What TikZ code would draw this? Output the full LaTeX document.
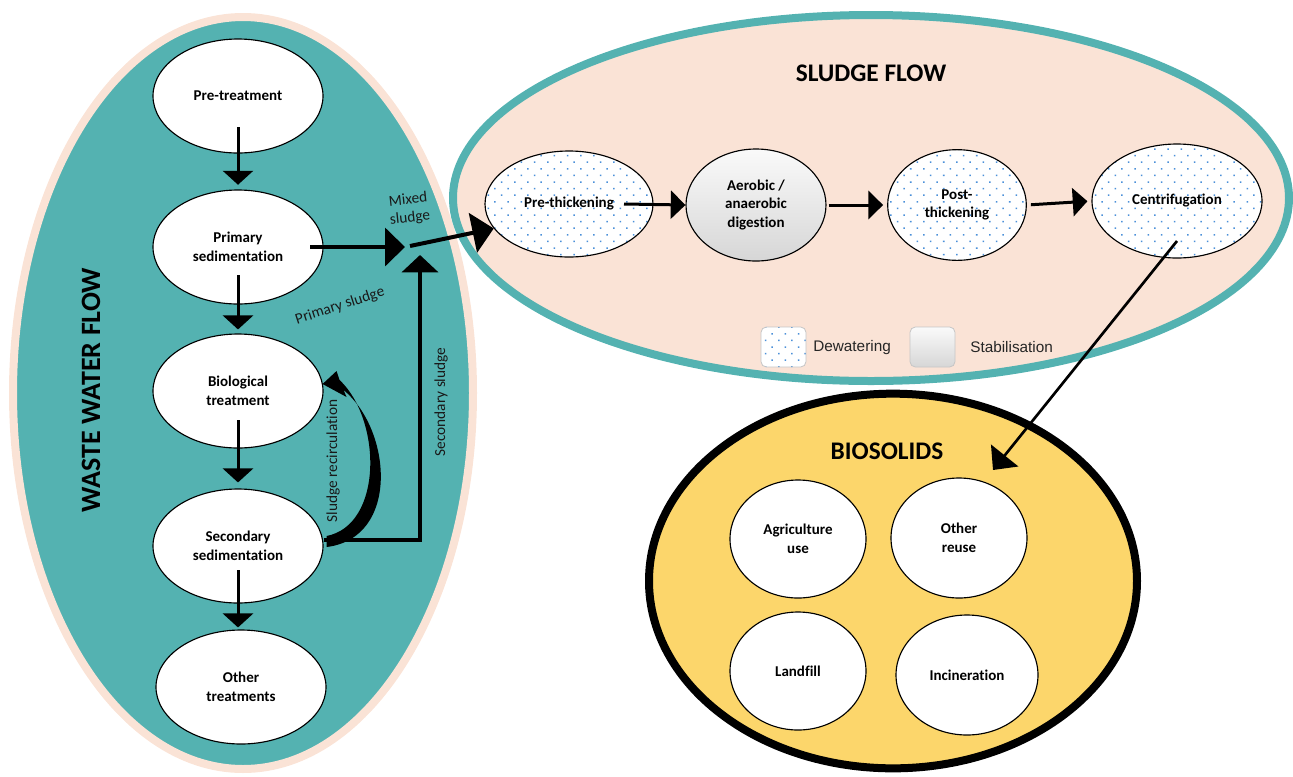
\documentclass[tikz,border=0pt]{standalone}
\usepackage{fontspec}
\setmainfont{Carlito}[Ligatures=NoCommon]
\newfontfamily\legfont{Liberation Sans}
\usetikzlibrary{shapes.geometric,arrows.meta,patterns.meta,calc}
\definecolor{tealc}{HTML}{54B2B1}
\definecolor{peachc}{HTML}{FAE3D6}
\definecolor{goldc}{HTML}{FCD66B}
\definecolor{dotblue}{HTML}{4A90D9}
\tikzset{
  proc/.style={ellipse, draw=black, line width=0.85pt, fill=white, inner sep=0pt, align=center,
    font=\bfseries\fontsize{11.25}{14}\selectfont},
  leftproc/.style={proc, minimum width=127.5pt, minimum height=85.5pt},
  dotfill/.style={preaction={fill=white}, pattern={Dots[radius=0.8pt,distance=7pt,angle=45]}, pattern color=dotblue},
  grayfill/.style={top color=gray!4, bottom color=gray!32},
  container/.style={ellipse, line width=6pt, inner sep=0pt},
  title/.style={font=\bfseries\fontsize{19}{22}\selectfont, inner sep=0pt},
  lab/.style={font=\fontsize{11.5}{13.5}\selectfont, text=black!90, align=center, inner sep=0pt},
  legbox/.style={rectangle, rounded corners=4pt, draw=gray!45, line width=0.6pt, minimum width=33.75pt, minimum height=30pt, inner sep=0pt},
  legtext/.style={font=\legfont\fontsize{11.5}{13}\selectfont, anchor=west, inner sep=0pt, text=black!85},
  varr/.style={line width=2.25pt, -{Triangle[width=22.5pt,length=10.5pt]}},
  harr/.style={line width=2.25pt, -{Triangle[width=21pt,length=11pt]}},
  bigarr/.style={line width=3pt, -{Triangle[width=28.5pt,length=15pt]}},
  biarr/.style={line width=2pt, -{Triangle[width=26pt,length=14pt]}}
}
\begin{document}
\begin{tikzpicture}[x=0.75pt,y=-0.75pt]
\useasboundingbox (0,0) rectangle (1293,776);
% containers
\node[container, draw=peachc, fill=tealc, minimum width=345pt, minimum height=564pt] (wwf) at (243,393) {};
\node[container, draw=tealc, fill=peachc, minimum width=627pt, minimum height=274.5pt] (sf) at (871,198) {};
\node[container, draw=black, fill=goldc, minimum width=366pt, minimum height=281pt] (bio) at (893,581) {};
% titles
\node[title, font=\bfseries\fontsize{21}{24}\selectfont, rotate=90] (wwft) at (91,390) {WASTE WATER FLOW};
\node[title] (sft) at (871,73) {SLUDGE FLOW};
\node[title] (biot) at (887,451) {BIOSOLIDS};
% waste water flow
\node[leftproc] (pre) at (238,96) {Pre-treatment};
\node[leftproc] (prim) at (238,247) {Primary\\sedimentation};
\node[leftproc] (biol) at (238,391) {Biological\\treatment};
\node[leftproc] (secs) at (238,546) {Secondary\\sedimentation};
\node[leftproc] (oth) at (241,687) {Other\\treatments};
% sludge flow
\node[proc, dotfill, minimum width=126pt, minimum height=79.5pt] (preth) at (569,204) {Pre-thickening};
\node[proc, grayfill, minimum width=105pt, minimum height=84pt] (aero) at (756,205) {Aerobic /\\anaerobic\\digestion};
\node[proc, dotfill, minimum width=104pt, minimum height=83pt] (post) at (957,205) {Post-\\thickening};
\node[proc, dotfill, minimum width=127.5pt, minimum height=85.5pt] (centr) at (1177,201) {Centrifugation};
% legend
\node[legbox, dotfill] (ldew) at (783.5,347) {};
\node[legtext] (tdew) at (813,348) {Dewatering};
\node[legbox, grayfill] (lstab) at (932.5,347) {};
\node[legtext] (tstab) at (970,347) {Stabilisation};
% biosolids
\node[proc, minimum width=102pt, minimum height=88.5pt] (agri) at (798,539) {Agriculture\\use};
\node[proc, minimum width=102pt, minimum height=90pt] (othr) at (959,538) {Other\\reuse};
\node[proc, minimum width=102pt, minimum height=88.5pt] (land) at (798,671) {Landfill};
\node[proc, minimum width=106.5pt, minimum height=90pt] (inci) at (967,675) {Incineration};
% vertical flow arrows
\draw[varr, shorten >=3.5pt] ([yshift=-23.25pt]pre.center) -- (prim.north);
\draw[varr, shorten >=3pt] ([yshift=-21pt]prim.center) -- (biol.north);
\draw[varr, shorten >=4.5pt] ([yshift=-21.75pt]biol.center) -- (secs.north);
\draw[varr, shorten >=1.5pt] ([yshift=-18pt]secs.center) -- (secs.center |- oth.north);
% sludge junction
\coordinate (mixL) at (405,247);
\coordinate (mix) at (410,246);
\coordinate (mixB) at (420,255);
\draw[bigarr] ([xshift=54pt]prim.center) -- (mixL);
\draw[bigarr, -{Triangle[width=27pt,length=13pt]}] ([yshift=4.5pt]secs.east) -| (mixB);
\draw[bigarr, -{Triangle[width=30pt,length=16pt]}] (mix) -- (preth.198);
% sludge recirculation (tapered curved arrow)
\fill[black] ($(secs.east)+(3,1)$) .. controls (400,538) and (392,430) .. ($(biol.east)+(20,-1)$)
  -- ($(biol.east)+(23,6)$) -- ($(biol.east)+(-1,-7)$) -- ($(biol.east)+(13,-20)$)
  -- ($(biol.east)+(16,-11)$) .. controls (382,420) and (383,525) .. ($(secs.east)+(3,-10)$) -- cycle;
% sludge flow arrows
\draw[harr] ([xshift=41.25pt]preth.center) -- (aero.west);
\draw[harr, shorten <=1.5pt, shorten >=3pt] (aero.east) -- (post.west);
\draw[harr, shorten <=3pt, shorten >=3pt] (post.east) -- (centr.west);
% to biosolids
\coordinate (bioin) at (993,470);
\draw[biarr] ([yshift=-30pt]centr.center) -- (bioin);
% labels
\node[lab, rotate=6] (lmix) at (409,209) {Mixed\\sludge};
\node[lab, rotate=18] (lprim) at (340,306) {Primary sludge};
\node[lab, rotate=90] (lsec) at (441,402) {Secondary sludge};
\node[lab, rotate=90] (lrec) at (333,461) {Sludge recirculation};
\end{tikzpicture}
\end{document}
